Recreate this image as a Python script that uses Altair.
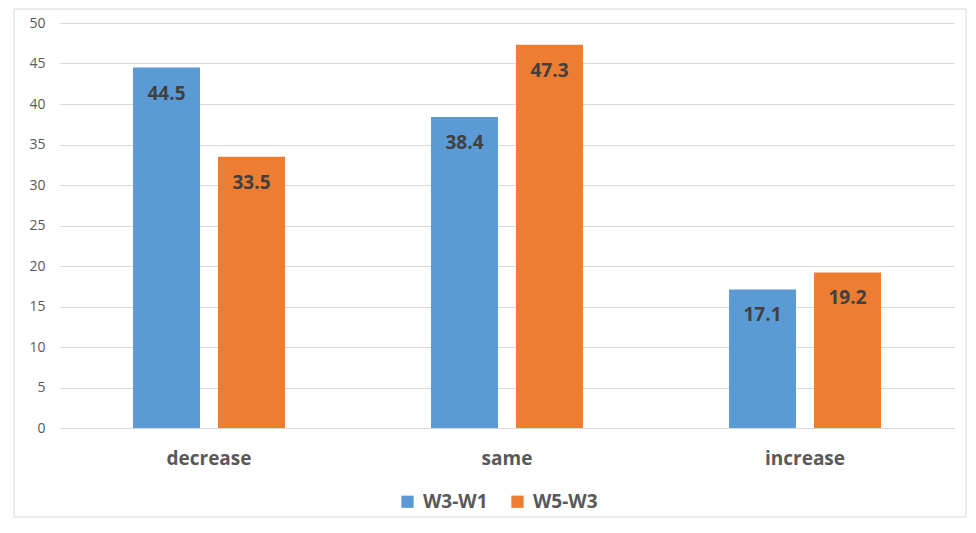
import altair as alt
import pandas as pd

categories = ["decrease", "same", "increase"]
series_names = ["W3-W1", "W5-W3"]
w3_w1 = [44.5, 38.4, 17.1]
w5_w3 = [33.5, 47.3, 19.2]
colors = ["#5B9BD5", "#ED7D31"]

rows = []
for i, c in enumerate(categories):
    rows.append({"category": c, "series": series_names[0], "value": w3_w1[i]})
    rows.append({"category": c, "series": series_names[1], "value": w5_w3[i]})
df = pd.DataFrame(rows)

FONT = "Open Sans"

x_enc = alt.X(
    "category:N",
    sort=categories,
    title=None,
    scale=alt.Scale(paddingInner=0.49, paddingOuter=0.245),
    axis=alt.Axis(
        labelAngle=0,
        labelFont=FONT,
        labelFontSize=19,
        labelFontWeight="bold",
        labelColor="#595959",
        labelPadding=21,
        ticks=False,
        domain=True,
        domainColor="#d9d9d9",
        grid=False,
    ),
)
xoff = alt.XOffset(
    "series:N",
    sort=series_names,
    scale=alt.Scale(paddingInner=0.212, paddingOuter=0),
)
y_enc = alt.Y(
    "value:Q",
    title=None,
    scale=alt.Scale(domain=[0, 50], nice=False),
    axis=alt.Axis(
        values=list(range(0, 51, 5)),
        labelFont=FONT,
        labelFontSize=14,
        labelColor="#595959",
        labelPadding=15,
        ticks=False,
        domain=False,
        grid=True,
        gridColor="#d9d9d9",
        gridWidth=1,
    ),
)

bars = alt.Chart(df).mark_bar().encode(
    x=x_enc,
    xOffset=xoff,
    y=y_enc,
    color=alt.Color(
        "series:N",
        sort=series_names,
        scale=alt.Scale(domain=series_names, range=colors),
        legend=alt.Legend(
            title=None,
            orient="none",
            legendX=338,
            legendY=469,
            direction="horizontal",
            symbolType="square",
            symbolSize=150,
            symbolStrokeWidth=0,
            labelFont=FONT,
            labelFontSize=19,
            labelFontWeight="bold",
            labelColor="#595959",
            columnPadding=20,
            labelOffset=6,
        ),
    ),
)

labels = alt.Chart(df).mark_text(
    baseline="middle",
    dy=26,
    font=FONT,
    fontSize=19,
    fontWeight="bold",
    color="#404040",
).encode(
    x=alt.X("category:N", sort=categories),
    xOffset=alt.XOffset("series:N", sort=series_names),
    y="value:Q",
    text=alt.Text("value:Q", format=".1f"),
)

frame = alt.Chart(alt.Data(values=[{}])).mark_rect(
    filled=False, stroke="#d9d9d9", strokeWidth=1
).encode(
    x=alt.value(-46), x2=alt.value(906), y=alt.value(-14), y2=alt.value(494)
)

chart = alt.layer(frame, bars, labels).properties(
    width=894,
    height=405,
    autosize=alt.AutoSizeParams(type="none"),
    padding={"left": 52, "top": 15, "right": 14, "bottom": 92},
).configure_view(stroke=None)

chart.save("out.html", embed_options={"renderer": "svg", "actions": False})
